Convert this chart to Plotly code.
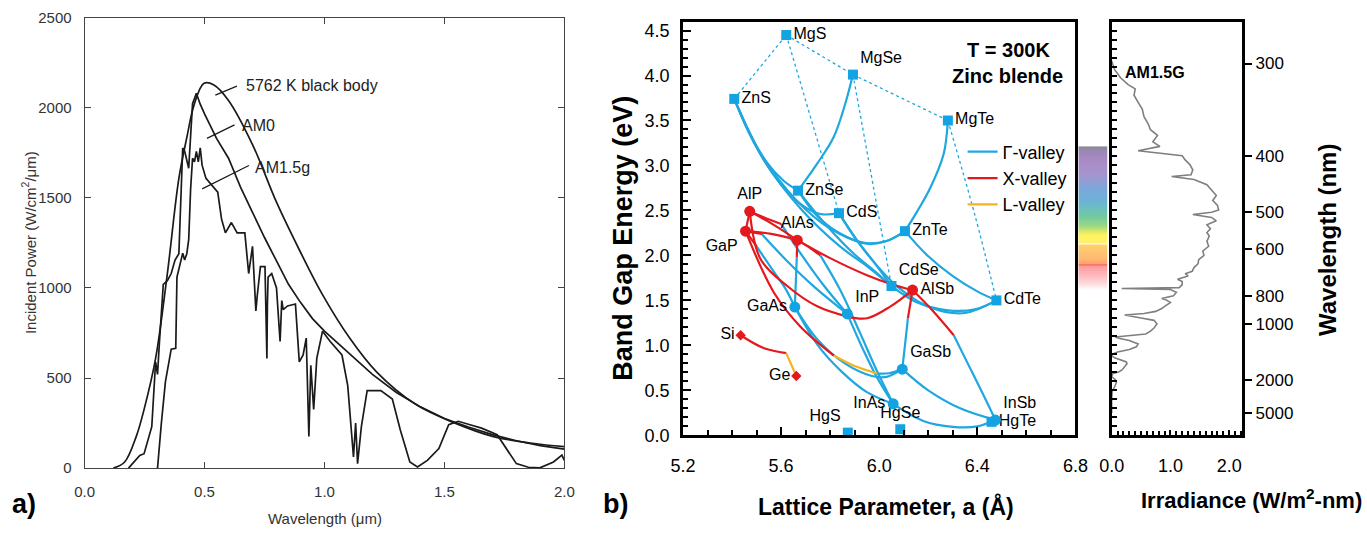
import plotly.graph_objects as go

W, H = 1367, 536
FONT = "Liberation Sans, Arial, sans-serif"


def fx(px):
    return px / W


def fy(py):
    return 1 - py / H


# ---------------- panel a : solar spectra ----------------
bb_wl = [0.12, 0.167, 0.215, 0.248, 0.296, 0.345, 0.393, 0.426, 0.458, 0.498, 0.539, 0.60, 0.70,
         0.80, 0.895, 0.99, 1.105, 1.218, 1.38, 1.542, 1.704, 1.866, 2.0]
bb_pw = [0, 34, 175, 326, 609, 1080, 1608, 1834, 2023, 2136, 2127, 2041, 1796,
         1476, 1212, 967, 722, 533, 354, 251, 175, 138, 119]

am0_wl = [0.183, 0.215, 0.23, 0.248, 0.264, 0.28, 0.296, 0.304, 0.312, 0.328, 0.345, 0.361, 0.377,
          0.393, 0.409, 0.417, 0.434, 0.45, 0.466, 0.482, 0.50, 0.55, 0.60, 0.65, 0.70, 0.75,
          0.80, 0.85, 0.90, 0.95, 1.0, 1.1, 1.2, 1.3, 1.4, 1.5, 1.6, 1.7, 1.8, 1.9, 2.0]
am0_pw = [0, 45, 70, 80, 155, 230, 590, 520, 700, 1020, 1040, 1080, 1155,
          1190, 1777, 1760, 1664, 2023, 2080, 2020, 1966, 1830, 1720, 1560, 1420, 1280,
          1150, 1020, 920, 830, 760, 640, 520, 420, 340, 275, 228, 186, 152, 125, 105]

am15_wl = [0.300, 0.304, 0.32, 0.337, 0.361, 0.38, 0.385, 0.393, 0.409, 0.417, 0.426, 0.434, 0.442,
           0.45, 0.458, 0.466, 0.474, 0.482, 0.49, 0.506, 0.53, 0.555, 0.571, 0.587, 0.612, 0.636,
           0.668, 0.684, 0.70, 0.714, 0.72, 0.733, 0.752, 0.760, 0.762, 0.765, 0.78, 0.80, 0.815,
           0.822, 0.828, 0.846, 0.879, 0.895, 0.911, 0.924, 0.935, 0.943, 0.955, 0.968, 0.992,
           1.024, 1.073, 1.097, 1.121, 1.13, 1.138, 1.154, 1.178, 1.235, 1.283, 1.316, 1.356,
           1.388, 1.429, 1.477, 1.518, 1.558, 1.607, 1.655, 1.72, 1.752, 1.80, 1.85, 1.898,
           1.955, 1.99, 2.0]
am15_pw = [0, 0, 250, 480, 660, 665, 1060, 1100, 1193, 1155, 1190, 1268, 1550,
           1720, 1700, 1758, 1700, 1777, 1680, 1608, 1570, 1532, 1382, 1306, 1363, 1306,
           1306, 1080, 1231, 873, 960, 1118, 1118, 609, 900, 1060, 1080, 1000, 703,
           930, 880, 900, 911, 590, 628, 722, 175, 571, 326, 609, 760,
           703, 628, 458, 62, 250, 25, 232, 430, 430, 383, 213, 34,
           6, 43, 109, 241, 260, 241, 222, 185, 119, 25, 5, 2,
           34, 72, 43]

curve_labels = ["5762 K black body", "AM0", "AM1.5g"]

# ---------------- panel b : band gap vs lattice constant ----------------
ii_vi_names = ["MgS", "MgSe", "MgTe", "ZnS", "ZnSe", "ZnTe", "CdS", "CdSe", "CdTe", "HgS", "HgSe", "HgTe"]
ii_vi_a = [5.621, 5.893, 6.28, 5.409, 5.669, 6.105, 5.836, 6.05, 6.478, 5.872, 6.086, 6.458]
ii_vi_E = [4.45, 4.01, 3.50, 3.74, 2.72, 2.27, 2.47, 1.66, 1.50, 0.03, 0.068, 0.15]
ii_vi_pos = ["middle right", "top right", "middle right", "middle right", "middle right", "middle right",
             "middle right", "top right", "middle right", "top left", "top center", "middle right"]

iii_v_dir_names = ["GaAs", "InP", "GaSb", "InAs", "InSb"]
iii_v_dir_a = [5.656, 5.87, 6.094, 6.057, 6.474]
iii_v_dir_E = [1.426, 1.35, 0.736, 0.35, 0.17]
iii_v_dir_pos = ["middle left", "top right", "top right", "middle left", "top right"]

iii_v_ind_names = ["AlP", "GaP", "AlAs", "AlSb"]
iii_v_ind_a = [5.472, 5.455, 5.666, 6.136]
iii_v_ind_E = [2.49, 2.27, 2.17, 1.615]
iii_v_ind_pos = ["top center", "bottom left", "top center", "middle right"]

iv_names = ["Si", "Ge"]
iv_a = [5.435, 5.662]
iv_E = [1.113, 0.66]
iv_pos = ["middle left", "middle left"]

gamma_curves = {
    "ZnS-ZnSe": ([5.409, 5.47, 5.54, 5.61, 5.669], [3.74, 3.36, 3.04, 2.83, 2.72]),
    "ZnS-CdS": ([5.409, 5.49, 5.58, 5.68, 5.76, 5.836], [3.74, 3.25, 2.86, 2.57, 2.46, 2.47]),
    "ZnS-ZnTe": ([5.409, 5.52, 5.66, 5.80, 5.94, 6.03, 6.105], [3.74, 3.12, 2.62, 2.30, 2.14, 2.16, 2.27]),
    "ZnS-CdSe": ([5.409, 5.53, 5.68, 5.84, 5.96, 6.05], [3.74, 3.06, 2.52, 2.10, 1.86, 1.66]),
    "ZnSe-ZnTe": ([5.669, 5.75, 5.85, 5.95, 6.03, 6.105], [2.72, 2.43, 2.23, 2.13, 2.16, 2.27]),
    "ZnSe-CdSe": ([5.669, 5.78, 5.90, 5.98, 6.05], [2.72, 2.35, 2.01, 1.83, 1.66]),
    "CdS-CdSe": ([5.836, 5.90, 5.98, 6.05], [2.47, 2.20, 1.92, 1.66]),
    "CdS-CdTe": ([5.836, 5.95, 6.08, 6.22, 6.35, 6.478], [2.47, 2.02, 1.64, 1.41, 1.36, 1.50]),
    "CdSe-CdTe": ([6.05, 6.16, 6.28, 6.39, 6.478], [1.66, 1.47, 1.39, 1.40, 1.50]),
    "ZnTe-CdTe": ([6.105, 6.20, 6.30, 6.40, 6.478], [2.27, 1.99, 1.77, 1.60, 1.50]),
    "MgSe-ZnSe": ([5.893, 5.863, 5.815, 5.747, 5.669], [4.01, 3.70, 3.32, 3.02, 2.72]),
    "MgTe-ZnTe": ([6.28, 6.263, 6.209, 6.155, 6.105], [3.50, 3.13, 2.755, 2.49, 2.27]),
    "GaAs-InAs": ([5.656, 5.75, 5.85, 5.95, 6.057], [1.426, 1.00, 0.70, 0.48, 0.35]),
    "GaAs-GaSb": ([5.656, 5.75, 5.86, 5.97, 6.03, 6.094], [1.426, 1.06, 0.80, 0.66, 0.65, 0.736]),
    "InP-InAs": ([5.87, 5.93, 5.99, 6.057], [1.35, 0.98, 0.65, 0.35]),
    "AlAs-InAs": ([5.76, 5.84, 5.92, 5.99, 6.057], [2.00, 1.62, 1.15, 0.72, 0.35]),
    "AlP-InP": ([5.60, 5.68, 5.77, 5.87], [2.35, 2.02, 1.68, 1.35]),
    "GaP-InP": ([5.52, 5.62, 5.74, 5.87], [2.24, 1.95, 1.64, 1.35]),
    "GaP-GaAs": ([5.50, 5.57, 5.62, 5.656], [2.10, 1.82, 1.62, 1.426]),
    "AlAs-GaAs": ([5.664, 5.656], [1.98, 1.426]),
    "AlSb-GaSb": ([6.117, 6.105, 6.094], [1.30, 1.00, 0.736]),
    "AlSb-InSb": ([6.304, 6.37, 6.43, 6.474], [1.113, 0.75, 0.42, 0.17]),
    "GaSb-InSb": ([6.094, 6.20, 6.33, 6.474], [0.736, 0.50, 0.30, 0.17]),
    "InAs-InSb": ([6.057, 6.18, 6.30, 6.40, 6.474], [0.35, 0.16, 0.095, 0.10, 0.17]),
    "GaP-GaSb": ([5.992, 6.04, 6.094], [0.687, 0.69, 0.736]),
}

x_curves = {
    "AlP-GaP": ([5.472, 5.455], [2.49, 2.27]),
    "AlP-AlAs": ([5.472, 5.57, 5.666], [2.49, 2.34, 2.17]),
    "GaP-AlAs": ([5.455, 5.56, 5.666], [2.27, 2.24, 2.17]),
    "AlP-InP": ([5.472, 5.54, 5.60], [2.49, 2.41, 2.35]),
    "GaP-InP": ([5.455, 5.52], [2.27, 2.24]),
    "AlAs-AlSb": ([5.666, 5.80, 5.95, 6.05, 6.136], [2.17, 1.97, 1.78, 1.68, 1.615]),
    "AlAs-InAs": ([5.666, 5.72, 5.76], [2.17, 2.08, 2.00]),
    "AlP-InP bowed": ([5.472, 5.516, 5.625, 5.747, 5.87], [2.49, 1.96, 1.66, 1.434, 1.32]),
    "InP-AlSb": ([5.87, 5.951, 6.046, 6.136], [1.32, 1.302, 1.434, 1.615]),
    "GaP-GaSb": ([5.455, 5.571, 5.679, 5.815], [2.27, 1.585, 1.208, 0.887]),
    "GaP-GaAs": ([5.455, 5.50], [2.27, 2.10]),
    "AlAs-GaAs": ([5.666, 5.664], [2.17, 1.98]),
    "AlSb-GaSb": ([6.136, 6.117], [1.615, 1.30]),
    "AlSb-InSb": ([6.136, 6.22, 6.304], [1.615, 1.38, 1.113]),
    "Si-Ge": ([5.435, 5.531, 5.621], [1.113, 0.968, 0.914]),
}

l_curves = {
    "GaP-GaSb": ([5.815, 5.90, 5.992], [0.887, 0.77, 0.687]),
    "Si-Ge": ([5.621, 5.662], [0.914, 0.66]),
}

mg_dotted = {
    "ZnS-MgS": ([5.409, 5.621], [3.74, 4.45]),
    "MgS-MgSe": ([5.621, 5.893], [4.45, 4.01]),
    "MgSe-MgTe": ([5.893, 6.28], [4.01, 3.50]),
    "MgS-CdS": ([5.621, 5.836], [4.45, 2.47]),
    "MgSe-CdSe": ([5.893, 6.05], [4.01, 1.66]),
    "MgTe-CdTe": ([6.28, 6.39, 6.478], [3.50, 2.45, 1.50]),
}

# ---------------- panel c : AM1.5G on the energy axis ----------------
sp_wl = [298, 305, 312, 318, 322, 328, 335, 342, 350, 358, 365, 372, 380, 386, 392, 395, 399, 405,
         412, 420, 428, 431, 436, 445, 455, 465, 475, 485, 495, 500, 505, 512, 520, 530, 540, 550,
         560, 575, 590, 605, 620, 635, 650, 665, 680, 690, 700, 715, 725, 740, 755, 760, 765, 780,
         800, 815, 822, 840, 860, 880, 900, 915, 927, 935, 950, 970, 1000, 1040, 1070, 1100, 1120,
         1135, 1150, 1175, 1220, 1260, 1300, 1340, 1370, 1400, 1440, 1480, 1520, 1560, 1620, 1700,
         1760, 1800, 1850, 1900, 1950, 2000, 2100, 2200, 2300, 2400, 2500, 3000, 5000]
sp_irr = [0.0, 0.05, 0.15, 0.28, 0.40, 0.38, 0.45, 0.52, 0.55, 0.62, 0.66, 0.78, 0.70, 0.82, 0.45, 0.75,
          1.20, 1.25, 1.33, 1.38, 1.35, 1.02, 1.40, 1.62, 1.70, 1.78, 1.72, 1.80, 1.82, 1.70, 1.38,
          1.70, 1.78, 1.62, 1.68, 1.62, 1.66, 1.62, 1.65, 1.55, 1.57, 1.48, 1.47, 1.40, 1.37, 1.25,
          1.30, 1.12, 1.20, 1.20, 1.15, 0.17, 1.00, 1.10, 1.05, 0.85, 0.92, 1.00, 0.92, 0.85, 0.75,
          0.55, 0.22, 0.35, 0.50, 0.72, 0.77, 0.72, 0.66, 0.58, 0.20, 0.06, 0.12, 0.30, 0.45, 0.42,
          0.30, 0.10, 0.02, 0.0, 0.05, 0.16, 0.25, 0.26, 0.23, 0.18, 0.12, 0.02, 0.01, 0.0, 0.03,
          0.06, 0.08, 0.07, 0.05, 0.03, 0.01, 0.0, 0.0]
wl_ticks = [300, 400, 500, 600, 800, 1000, 2000, 5000]

# visible-spectrum colour bar (wavelength in nm, colour)
band_wl = [388, 392, 407, 428, 451, 477, 506, 532, 554, 577, 580, 583, 590, 629, 649, 653, 656, 689, 729, 765]
band_col = ["#8e8aa0", "#9a88b4", "#aa8cc8", "#a496cf", "#7aa8da", "#6cb4d6", "#6fc9a2", "#9bd884",
            "#fff35c", "#fff170", "#ffffff", "#ffd46e", "#ffcd6c", "#ffb872", "#ffa070", "#ee5a5a",
            "#ff9a9a", "#ffb4b8", "#ffd8da", "#ffffff"]

# ---------------- geometry (pixels) ----------------
A_L, A_R, A_T, A_B = 73, 562, 9, 476
B_L, B_R, B_T, B_B = 683, 1083, 13, 442
C_L, C_R = 1120, 1253
BAR_L, BAR_R = 1086, 1116
E_TOP = 4.60

# ---------------- build figure ----------------
BLUE = "#1fa7e0"
RED = "#e3191e"
YEL = "#f4b41e"
fig = go.Figure()

for wl, pw in [(bb_wl, bb_pw), (am0_wl, am0_pw), (am15_wl, am15_pw)]:
    fig.add_trace(go.Scatter(x=wl, y=pw, xaxis="x", yaxis="y", mode="lines",
                             line=dict(color="#1a1a1a", width=1.7,
                                       shape="spline" if wl is bb_wl else "linear"),
                             showlegend=False, hoverinfo="skip"))

for k, (a, e) in mg_dotted.items():
    fig.add_trace(go.Scatter(x=a, y=e, xaxis="x2", yaxis="y2", mode="lines",
                             line=dict(color=BLUE, width=1.3, dash="dot", shape="spline"),
                             showlegend=False, hoverinfo="skip"))

for group, col, name in [(gamma_curves, BLUE, "Γ-valley"), (x_curves, RED, "X-valley"),
                         (l_curves, YEL, "L-valley")]:
    first = True
    for k, (a, e) in group.items():
        fig.add_trace(go.Scatter(x=a, y=e, xaxis="x2", yaxis="y2", mode="lines", name=name,
                                 line=dict(color=col, width=2.2, shape="spline", smoothing=1.0),
                                 showlegend=first, legendgroup=name, hoverinfo="skip"))
        first = False

txt = dict(size=16, color="black", family=FONT)
for names, a, e, pos, sym, col, size in [
        (ii_vi_names, ii_vi_a, ii_vi_E, ii_vi_pos, "square", "#14a3e2", 10),
        (iii_v_dir_names, iii_v_dir_a, iii_v_dir_E, iii_v_dir_pos, "circle", "#14a3e2", 11),
        (iii_v_ind_names, iii_v_ind_a, iii_v_ind_E, iii_v_ind_pos, "circle", RED, 11),
        (iv_names, iv_a, iv_E, iv_pos, "diamond", RED, 8)]:
    fig.add_trace(go.Scatter(x=a, y=e, xaxis="x2", yaxis="y2", mode="markers+text", text=names,
                             textposition=pos, textfont=txt, cliponaxis=False,
                             marker=dict(symbol=sym, size=size, color=col, line=dict(width=0)),
                             showlegend=False, hoverinfo="skip"))

# colour bar
band_E = [1240.0 / w for w in band_wl]
e_min, e_max = min(band_E), max(band_E)
cscale = sorted([[(en - e_min) / (e_max - e_min), c] for en, c in zip(band_E, band_col)])
cscale[0][0] = 0.0
cscale[-1][0] = 1.0
fig.add_trace(go.Heatmap(x=[0, 1], y=band_E, z=[[en, en] for en in band_E], xaxis="x4", yaxis="y4",
                         colorscale=cscale, zmin=e_min, zmax=e_max, zsmooth="best",
                         showscale=False, hoverinfo="skip"))

# AM1.5G spectrum on energy axis
fig.add_trace(go.Scatter(x=sp_irr, y=[1240.0 / w for w in sp_wl], xaxis="x3", yaxis="y3", mode="lines",
                         line=dict(color="#7f7f7f", width=1.6), showlegend=False, hoverinfo="skip"))
fig.add_trace(go.Scatter(x=[0], y=[0], xaxis="x3", yaxis="y5", mode="markers",
                         marker=dict(opacity=0), showlegend=False, hoverinfo="skip"))

axa = dict(showgrid=False, zeroline=False, ticks="inside", ticklen=6, tickcolor="#444",
           showline=True, linecolor="#444", linewidth=1, mirror="ticks",
           tickfont=dict(size=15, color="#333", family=FONT))
axb = dict(showgrid=False, zeroline=False, ticks="inside", ticklen=8, tickwidth=2, tickcolor="black",
           showline=True, linecolor="black", linewidth=3, mirror=True,
           tickfont=dict(size=18, color="black", family=FONT))

fig.update_layout(
    width=W, height=H, margin=dict(l=0, r=0, t=0, b=0),
    paper_bgcolor="white", plot_bgcolor="rgba(0,0,0,0)",
    font=dict(family=FONT, color="black"),
    xaxis=dict(axa, domain=[fx(A_L), fx(A_R)], range=[0, 2], tick0=0, dtick=0.5, tickformat=".1f",
               ticklabelstandoff=10, anchor="y"),
    yaxis=dict(axa, domain=[fy(A_B), fy(A_T)], range=[0, 2500], tick0=0, dtick=500,
               ticklabelstandoff=9, anchor="x"),
    xaxis2=dict(axb, domain=[fx(B_L), fx(B_R)], range=[5.2, 6.8], tick0=5.2, dtick=0.4, tickformat=".1f",
                minor=dict(ticks="inside", tick0=5.2, dtick=0.1, ticklen=5, tickwidth=1.5, tickcolor="black"),
                ticklabelstandoff=12, anchor="y2"),
    yaxis2=dict(axb, domain=[fy(B_B), fy(B_T)], range=[0, E_TOP], tick0=0, dtick=0.5, tickformat=".1f",
                minor=dict(ticks="inside", tick0=0, dtick=0.1, ticklen=5, tickwidth=1.5, tickcolor="black"),
                ticklabelstandoff=7, anchor="x2"),
    xaxis3=dict(axb, domain=[fx(C_L), fx(C_R)], range=[0, 2.22], tick0=0, dtick=1, tickformat=".1f",
                ticklen=5, minor=dict(ticks="inside", tick0=0, dtick=0.1, ticklen=4, tickwidth=1.5,
                                      tickcolor="black"), ticklabelstandoff=12, anchor="y3"),
    yaxis3=dict(axb, domain=[fy(B_B), fy(B_T)], range=[0, E_TOP], side="right", anchor="x3",
                tickmode="array", tickvals=[1240.0 / w for w in wl_ticks], ticktext=[str(w) for w in wl_ticks],
                ticks="outside", ticklen=7, tickfont=dict(size=17, color="black", family=FONT)),
    yaxis5=dict(overlaying="y3", side="left", anchor="x3", range=[0, E_TOP], tick0=0, dtick=0.1,
                ticks="inside", ticklen=5, tickwidth=1.5, tickcolor="black", showticklabels=False,
                showline=False, showgrid=False, zeroline=False),
    xaxis4=dict(domain=[fx(BAR_L), fx(BAR_R)], range=[-0.5, 1.5], visible=False, anchor="y4"),
    yaxis4=dict(domain=[fy(B_B), fy(B_T)], range=[0, E_TOP], visible=False, anchor="x4"),
    legend=dict(x=fx(968), y=fy(129), xanchor="left", yanchor="top", bgcolor="rgba(0,0,0,0)",
                font=dict(size=18, color="black", family=FONT), itemwidth=30, tracegroupgap=0),
)

# leader lines of panel a
for x0, y0, x1, y1 in [(0.545, 2070, 0.635, 2120), (0.51, 1830, 0.625, 1905), (0.49, 1550, 0.685, 1680)]:
    fig.add_shape(type="line", xref="x", yref="y", x0=x0, y0=y0, x1=x1, y1=y1,
                  line=dict(color="#1a1a1a", width=1.2))

ann = []
for text, x, y in zip(curve_labels, [0.665, 0.648, 0.70], [2125, 1900, 1670]):
    ann.append(dict(text=text, x=x, y=y, xref="x", yref="y", xanchor="left", yanchor="middle",
                    showarrow=False, font=dict(size=16, color="#222", family=FONT)))


def pann(text, px, py, size, color="black", angle=0, anchor="center"):
    ann.append(dict(text=text, x=fx(px), y=fy(py), xref="paper", yref="paper", xanchor=anchor,
                    yanchor="middle", showarrow=False, textangle=angle,
                    font=dict(size=size, color=color, family=FONT)))


pann("Incident Power (W/cm<sup>2</sup>/μm)", 16, 242, 15, "#333", -90)
pann("Wavelength (μm)", 318, 528, 15, "#333")
pann("<b>a)</b>", 11, 513, 27)
pann("<b>b)</b>", 614, 513, 27)
pann("<b>Band Gap Energy (eV)</b>", 621, 238, 27, angle=-90)
pann("<b>Lattice Parameter, a (Å)</b>", 890, 516, 23)
pann("<b>T = 300K</b>", 1015, 42, 20)
pann("<b>Zinc blende</b>", 1014, 69, 20)
pann("<b>AM1.5G</b>", 1164, 66, 16)
pann("<b>Wavelength (nm)</b>", 1340, 240, 24, angle=-90)
pann("<b>Irradiance (W/m<sup>2</sup>-nm)</b>", 1263, 508, 22)
fig.update_layout(annotations=ann)

fig.write_html("out.html", config={"displayModeBar": False},
               post_script="document.body.style.margin='0px';document.body.style.overflow='hidden';")
